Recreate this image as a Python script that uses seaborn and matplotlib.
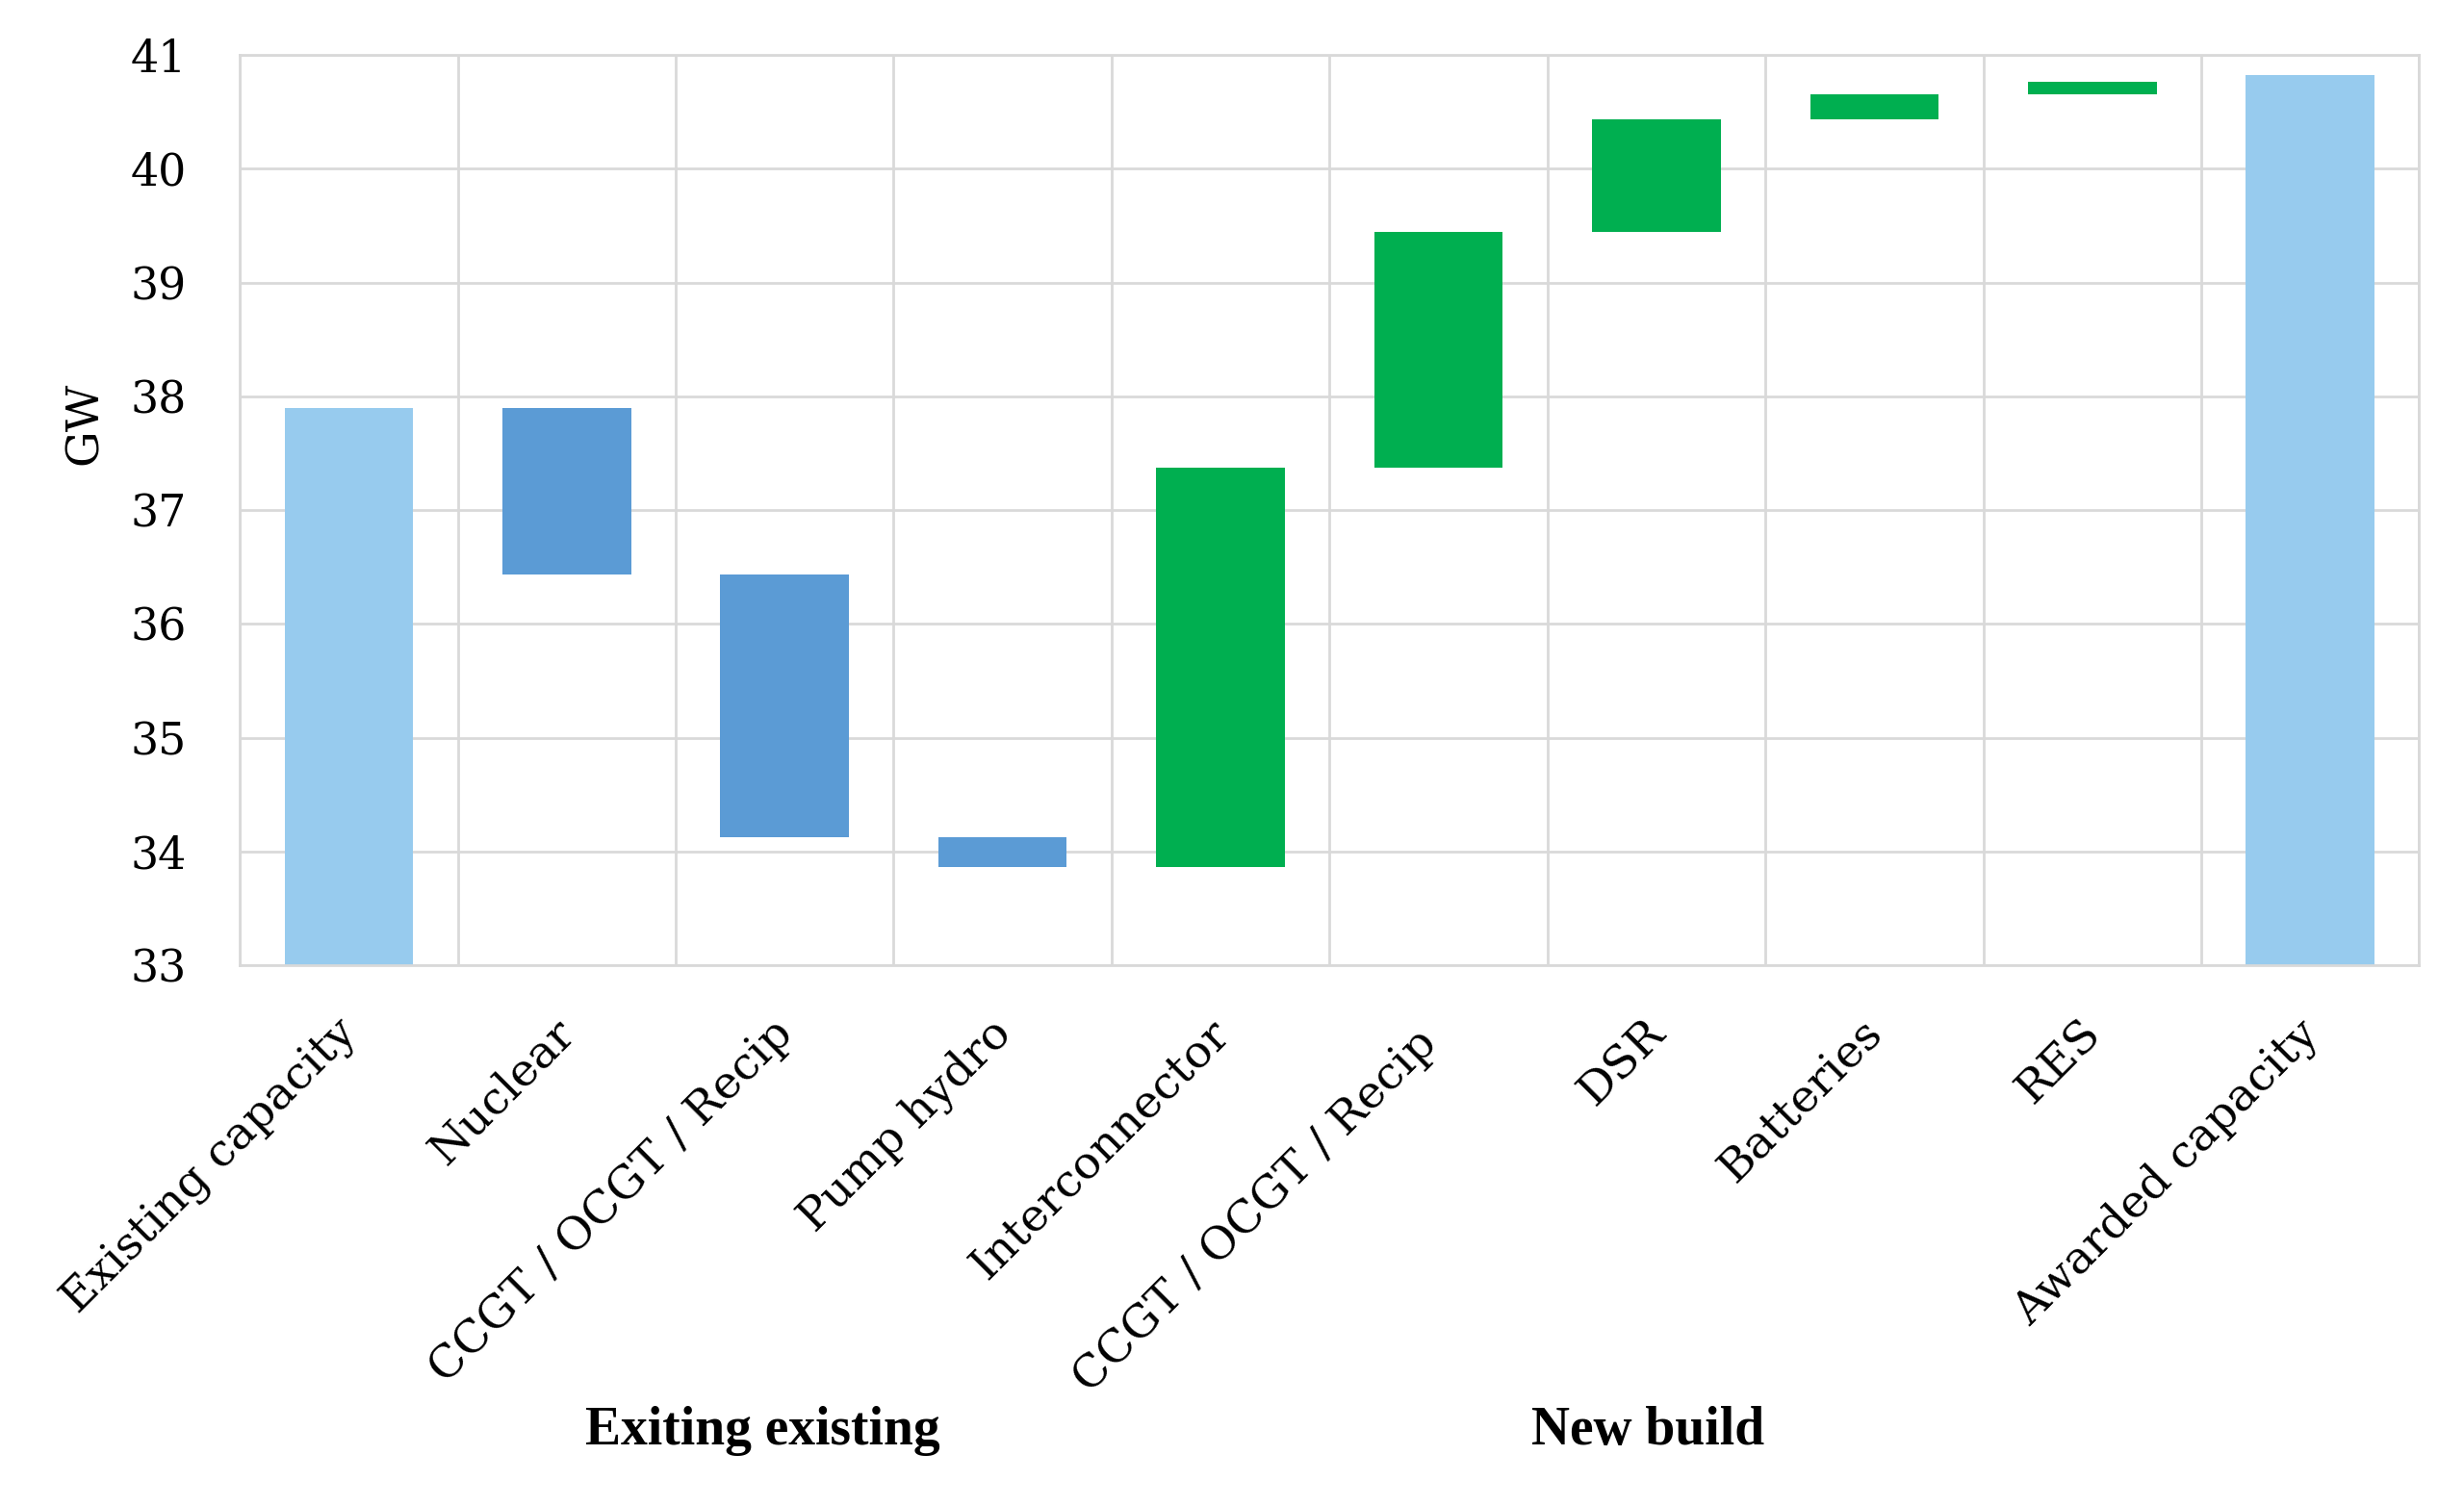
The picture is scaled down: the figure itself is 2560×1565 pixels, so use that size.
import numpy as np
import pandas as pd
import matplotlib
matplotlib.use("Agg")
import matplotlib.pyplot as plt
import matplotlib.transforms as mtransforms
import seaborn as sns

categories = ["Existing capacity", "Nuclear", "CCGT / OCGT / Recip", "Pump hydro",
              "Interconnector", "CCGT / OCGT / Recip ", "DSR", "Batteries", "RES",
              "Awarded capacity"]
# waterfall: bar bottoms and tops (GW)
bar_bottoms = [33.0, 36.43, 34.125, 33.86, 33.86, 37.375, 39.44, 40.43, 40.65, 33.0]
bar_tops = [37.90, 37.90, 36.43, 34.125, 37.375, 39.44, 40.43, 40.65, 40.765, 40.82]
bar_kinds = ["total", "down", "down", "down", "up", "up", "up", "up", "up", "total"]
group_labels = ["Exiting existing", "New build"]
group_centers = [1.9, 5.96]
y_ticks = [33, 34, 35, 36, 37, 38, 39, 40, 41]

kind_colors = {"total": "#97CBEE", "down": "#5B9BD5", "up": "#00AF50"}

sns.set_theme(style="white")
plt.rcParams["font.family"] = ["DejaVu Serif"]
plt.rcParams["text.color"] = "black"
plt.rcParams["axes.labelcolor"] = "black"
plt.rcParams["xtick.color"] = "black"
plt.rcParams["ytick.color"] = "black"

df = pd.DataFrame({
    "category": categories,
    "height": np.array(bar_tops) - np.array(bar_bottoms),
    "bottom": bar_bottoms,
    "kind": bar_kinds,
})

fig = plt.figure(figsize=(25.6, 15.65), dpi=100)
ax = fig.add_axes([0.0973, 0.359, 0.8845, 0.6046])

sns.barplot(data=df, x="category", y="height", bottom=df["bottom"].values,
            color="#888888", width=0.59, ax=ax, errorbar=None, linewidth=0)
for patch, kind in zip(ax.patches, df["kind"]):
    patch.set_facecolor(kind_colors[kind])
    patch.set_edgecolor("none")

ax.set_ylim(33, 41)
ax.set_xlim(-0.5, len(categories) - 0.5)
ax.set_yticks(y_ticks)
ax.set_yticklabels([str(t) for t in y_ticks], fontsize=33)

# grid lines
grid_c = "#D9D9D9"
for t in y_ticks:
    ax.axhline(t, color=grid_c, lw=2, zorder=0)
for b in np.arange(-0.5, len(categories), 1.0):
    ax.axvline(b, color=grid_c, lw=2, zorder=0)
ax.set_axisbelow(True)
for s in ax.spines.values():
    s.set_color(grid_c)
    s.set_linewidth(2)

ax.tick_params(axis="y", length=0, pad=40, labelsize=33, labelcolor="black")
ax.tick_params(axis="x", length=0, pad=46, labelcolor="black")
ax.set_xticks(range(len(categories)))
ax.set_xticklabels(categories, rotation=45, ha="right", va="center",
                   rotation_mode="anchor", fontsize=34)
offset = mtransforms.ScaledTranslation(2 / 100, 0, fig.dpi_scale_trans)
for lbl in ax.get_xticklabels():
    lbl.set_transform(lbl.get_transform() + offset)
ax.set_xlabel("")
ax.set_ylabel("GW", fontsize=34, color="black")
ax.yaxis.set_label_coords(-0.061, 0.595)

for lbl, cx in zip(group_labels, group_centers):
    ax.text(cx, 0.05, lbl,
            transform=mtransforms.blended_transform_factory(ax.transData, fig.transFigure),
            ha="center", va="center", fontsize=40, fontweight="bold", color="black",
            family=["Liberation Serif", "DejaVu Serif"])

fig.savefig("out.png", dpi=100)
